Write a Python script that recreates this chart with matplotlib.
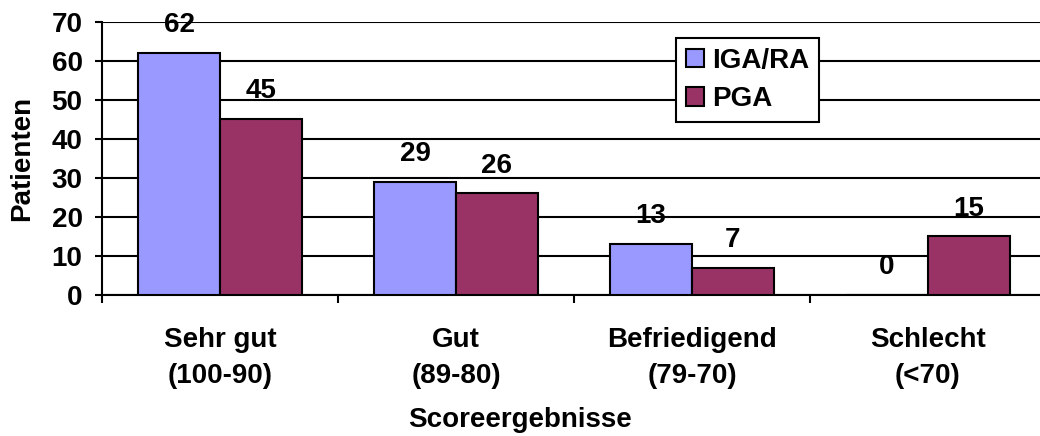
import matplotlib
matplotlib.use("Agg")
import matplotlib.pyplot as plt
import numpy as np
from matplotlib.ticker import FixedLocator

categories = ["Sehr gut\n(100-90)", "Gut\n(89-80)", "Befriedigend\n(79-70)", "Schlecht\n(<70)"]
iga_ra = [62, 29, 13, 0]
pga = [45, 26, 7, 15]
series_names = ["IGA/RA", "PGA"]
series_colors = ["#9999FF", "#993366"]
y_ticks = [0, 10, 20, 30, 40, 50, 60, 70]

plt.rcParams.update({
    "font.family": ["Liberation Sans", "DejaVu Sans"],
    "font.weight": "bold",
    "font.size": 20,
})

W, H = 1040, 436
fig = plt.figure(figsize=(W / 100, H / 100), dpi=100)
ax = fig.add_axes([102 / W, 141 / H, 944 / W, 273.5 / H])

x = np.arange(len(categories))
bw = 0.347
lw = 1.5

for offset, vals, name, col in [(-bw / 2, iga_ra, series_names[0], series_colors[0]),
                                (bw / 2, pga, series_names[1], series_colors[1])]:
    bars = ax.bar(x + offset, vals, width=bw, color=col, edgecolor="black",
                  linewidth=lw, label=name, zorder=3)
    for b, v in zip(bars, vals):
        ax.annotate(str(v), (b.get_x() + b.get_width() / 2, v),
                    xytext=(0, 15), textcoords="offset points",
                    ha="center", va="baseline", fontsize=20, fontweight="bold",
                    zorder=4)

ax.set_xlim(-0.5, len(categories) - 0.5)
ax.set_ylim(0, 70)
ax.set_yticks(y_ticks)
ax.yaxis.grid(True, color="black", linewidth=lw, zorder=0)
ax.set_axisbelow(True)

# category labels sit under the group centres, ticks mark the group borders
ax.set_xticks(x)
ax.set_xticklabels(categories, linespacing=1.5)
ax.xaxis.set_minor_locator(FixedLocator(np.arange(-0.5, len(categories), 1.0)))
ax.tick_params(axis="x", which="major", length=0, pad=23)
ax.tick_params(axis="x", which="minor", length=6, width=lw, direction="out")
ax.tick_params(axis="y", length=5, width=lw, direction="out", pad=9)

for s in ["top", "right"]:
    ax.spines[s].set_visible(False)
for s in ["left", "bottom"]:
    ax.spines[s].set_linewidth(lw)

ax.set_ylabel("Patienten", fontsize=20, fontweight="bold", labelpad=12)
fig.text(0.5, 16 / H, "Scoreergebnisse", ha="center", va="center",
         fontsize=20, fontweight="bold")

leg = ax.legend(loc="upper left", bbox_to_anchor=(676 / W, 1 - 38 / H),
                bbox_transform=fig.transFigure, borderaxespad=0,
                fancybox=False, frameon=True, framealpha=1, edgecolor="black",
                handlelength=0.65, handleheight=0.65, handletextpad=0.3,
                labelspacing=0.45, borderpad=0.35, fontsize=20)
leg.get_frame().set_linewidth(lw)
leg.set_zorder(5)

fig.savefig("out.png", dpi=100)
